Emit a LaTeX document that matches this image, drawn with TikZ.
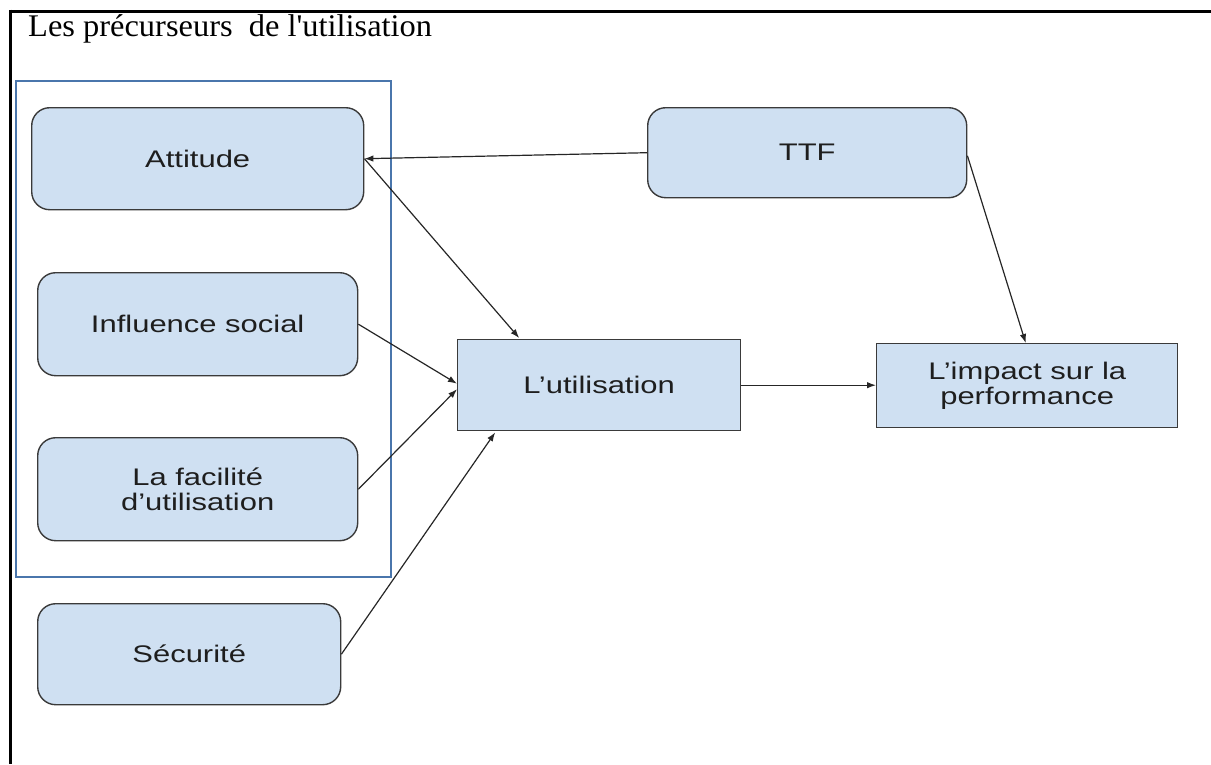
\documentclass[tikz,border=0pt]{standalone}
\usepackage{fontspec}
\setmainfont{Liberation Serif}
\newfontfamily\titlefont[FakeStretch=1.03]{Liberation Serif}
\newfontfamily\boxfont[FakeStretch=1.29]{Liberation Sans}
\usetikzlibrary{arrows.meta}
\definecolor{boxfill}{RGB}{207,224,242}
\definecolor{boxline}{RGB}{58,58,58}
\definecolor{groupblue}{RGB}{74,118,172}
\definecolor{textdark}{RGB}{30,30,30}
\begin{document}
\begin{tikzpicture}[x=1pt,y=-1pt,
  box/.style={draw=boxline,line width=1.4pt,fill=boxfill,anchor=north west,
    inner sep=0pt,align=center,text=textdark,
    font=\boxfont\fontsize{24}{24.3}\selectfont},
  roundbox/.style={box,rounded corners=18pt},
  arr/.style={draw=black!85,line width=1.2pt,-{Latex[length=9pt,width=6.5pt]}}]
\useasboundingbox (0,0) rectangle (1211,764);
% page frame (top and left rules)
\draw[line width=3pt] (9,11) -- (1211,11);
\draw[line width=3pt] (10.7,9.5) -- (10.7,764);
% title
\node[anchor=base west,inner sep=0pt,font=\titlefont\fontsize{31.5}{34}\selectfont] (title) at (28,36.5) {Les pr\'ecurseurs\ \ de l\textquotesingle utilisation};
% group frame around the precursors
\draw[groupblue,line width=2pt] (16,81) rectangle (391,577);
% boxes
\node[roundbox,minimum width=332pt,minimum height=102pt] (att) at (31,107) {Attitude};
\node[roundbox,minimum width=320pt,minimum height=103pt] (inf) at (37,272) {Influence social};
\node[roundbox,minimum width=320pt,minimum height=103pt] (fac) at (37,437) {La facilit\'e\\d\textquoteright utilisation};
\node[roundbox,minimum width=303pt,minimum height=101pt] (sec) at (37,603) {S\'ecurit\'e};
\node[roundbox,minimum width=319pt,minimum height=90pt] (ttf) at (647,107) {TTF};
\node[box,minimum width=283pt,minimum height=91pt] (use) at (457,339) {L\textquoteright utilisation};
\node[box,minimum width=301pt,minimum height=84pt] (imp) at (876,343) {L\textquoteright impact sur la\\performance};
% connectors
\draw[arr] (ttf.west) -- (att.east);
\draw[arr] (att.east) -- ([xshift=-80pt,yshift=1pt]use.north);
\draw[arr] (inf.east) -- ([yshift=1.5pt]use.west);
\draw[arr] (fac.east) -- ([yshift=-4pt]use.west);
\draw[arr] (sec.east) -- ([xshift=-104pt,yshift=-1pt]use.south);
\draw[arr] (use.east) -- (use.east -| imp.west);
\draw[arr] ([yshift=-3pt]ttf.east) -- ([xshift=-1.5pt]imp.north);
\end{tikzpicture}
\end{document}
